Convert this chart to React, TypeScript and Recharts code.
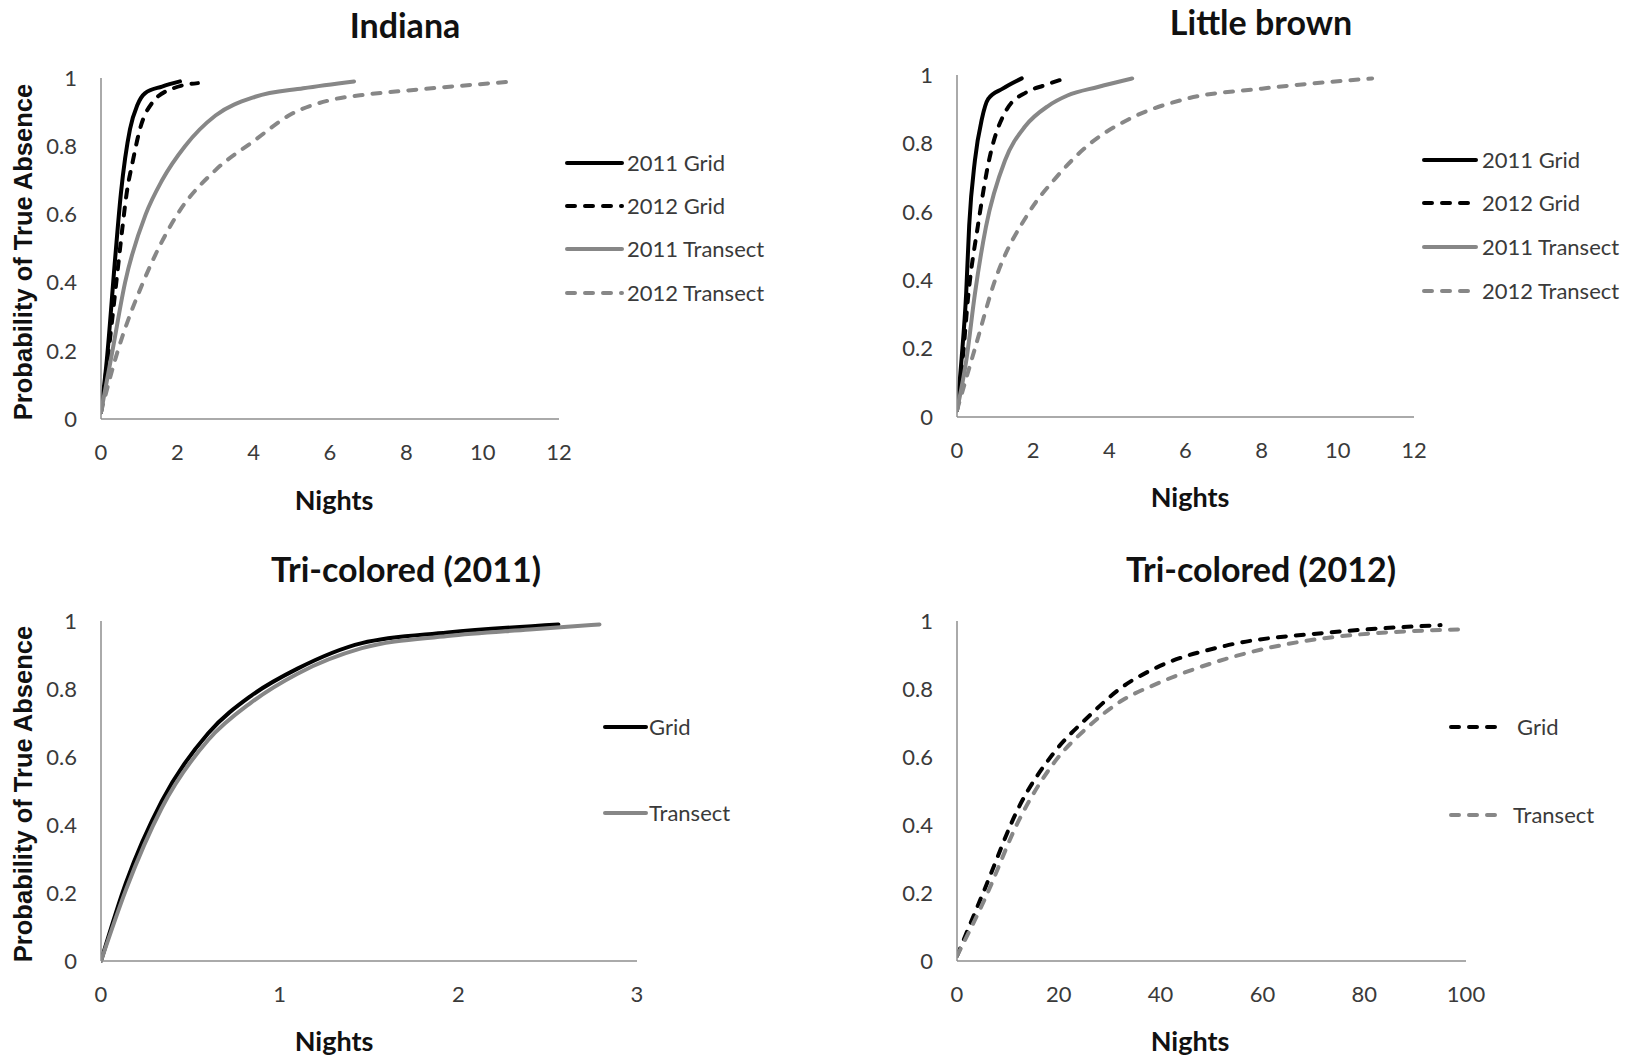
import { LineChart, Line, XAxis, YAxis } from 'recharts';

// ---------------------------------------------------------------------------
// Data: probability of true absence vs. survey nights
// ---------------------------------------------------------------------------

const probTicks = [0, 0.2, 0.4, 0.6, 0.8, 1];
const nightTicks12 = [0, 2, 4, 6, 8, 10, 12];
const nightTicks3 = [0, 1, 2, 3];
const nightTicks100 = [0, 20, 40, 60, 80, 100];

// Indiana
const indianaGrid2011 = [
  { n: 0, p: 0.02 }, { n: 0.15, p: 0.17 }, { n: 0.37, p: 0.47 }, { n: 0.52, p: 0.66 },
  { n: 0.76, p: 0.85 }, { n: 0.95, p: 0.92 }, { n: 1.15, p: 0.955 }, { n: 1.6, p: 0.975 },
  { n: 2.07, p: 0.99 },
];
const indianaGrid2012 = [
  { n: 0, p: 0.02 }, { n: 0.2, p: 0.2 }, { n: 0.42, p: 0.42 }, { n: 0.56, p: 0.56 },
  { n: 0.67, p: 0.66 }, { n: 0.84, p: 0.76 }, { n: 1.02, p: 0.85 }, { n: 1.36, p: 0.93 },
  { n: 1.9, p: 0.97 }, { n: 2.54, p: 0.985 },
];
const indianaTransect2011 = [
  { n: 0, p: 0.02 }, { n: 0.3, p: 0.2 }, { n: 0.63, p: 0.4 }, { n: 1.17, p: 0.6 },
  { n: 1.6, p: 0.7 }, { n: 2.2, p: 0.8 }, { n: 3.0, p: 0.89 }, { n: 4.04, p: 0.945 },
  { n: 5.3, p: 0.97 }, { n: 6.63, p: 0.99 },
];
const indianaTransect2012 = [
  { n: 0, p: 0.02 }, { n: 0.44, p: 0.2 }, { n: 1.1, p: 0.4 }, { n: 2.0, p: 0.6 },
  { n: 3.0, p: 0.73 }, { n: 4.0, p: 0.815 }, { n: 5.0, p: 0.895 }, { n: 6.0, p: 0.935 },
  { n: 7.0, p: 0.952 }, { n: 8.0, p: 0.963 }, { n: 10.8, p: 0.99 },
];

// Little brown
const littleGrid2011 = [
  { n: 0, p: 0.02 }, { n: 0.12, p: 0.17 }, { n: 0.24, p: 0.36 }, { n: 0.32, p: 0.56 },
  { n: 0.47, p: 0.75 }, { n: 0.65, p: 0.87 }, { n: 0.82, p: 0.93 }, { n: 1.2, p: 0.96 },
  { n: 1.7, p: 0.99 },
];
const littleGrid2012 = [
  { n: 0, p: 0.02 }, { n: 0.15, p: 0.17 }, { n: 0.3, p: 0.36 }, { n: 0.55, p: 0.56 },
  { n: 0.84, p: 0.75 }, { n: 1.31, p: 0.9 }, { n: 1.83, p: 0.95 }, { n: 2.3, p: 0.97 },
  { n: 2.84, p: 0.99 },
];
const littleTransect2011 = [
  { n: 0, p: 0.02 }, { n: 0.25, p: 0.17 }, { n: 0.47, p: 0.36 }, { n: 0.76, p: 0.556 },
  { n: 1.26, p: 0.75 }, { n: 1.79, p: 0.85 }, { n: 2.4, p: 0.91 }, { n: 2.9, p: 0.94 },
  { n: 3.7, p: 0.965 }, { n: 4.6, p: 0.99 },
];
const littleTransect2012 = [
  { n: 0, p: 0.02 }, { n: 0.47, p: 0.2 }, { n: 1.0, p: 0.4 }, { n: 1.9, p: 0.6 },
  { n: 2.6, p: 0.7 }, { n: 3.5, p: 0.8 }, { n: 4.5, p: 0.87 }, { n: 6.0, p: 0.93 },
  { n: 8.0, p: 0.96 }, { n: 10.9, p: 0.99 },
];

// Tri-colored (2011)
const tri2011Grid = [
  { n: 0, p: 0 }, { n: 0.14, p: 0.23 }, { n: 0.34, p: 0.47 }, { n: 0.6, p: 0.67 },
  { n: 0.84, p: 0.78 }, { n: 1.1, p: 0.86 }, { n: 1.46, p: 0.935 }, { n: 1.94, p: 0.966 },
  { n: 2.56, p: 0.99 },
];
const tri2011Transect = [
  { n: 0, p: 0 }, { n: 0.14, p: 0.21 }, { n: 0.34, p: 0.45 }, { n: 0.6, p: 0.65 },
  { n: 0.84, p: 0.76 }, { n: 1.1, p: 0.845 }, { n: 1.46, p: 0.92 }, { n: 1.94, p: 0.956 },
  { n: 2.4, p: 0.975 }, { n: 2.79, p: 0.99 },
];

// Tri-colored (2012)
const tri2012Grid = [
  { n: 0, p: 0.015 }, { n: 5.4, p: 0.21 }, { n: 12.2, p: 0.454 }, { n: 18.9, p: 0.61 },
  { n: 25.7, p: 0.717 }, { n: 32.4, p: 0.805 }, { n: 39.2, p: 0.863 }, { n: 52.7, p: 0.927 },
  { n: 73, p: 0.966 }, { n: 95, p: 0.988 },
];
const tri2012Transect = [
  { n: 0, p: 0.015 }, { n: 5.4, p: 0.18 }, { n: 12.2, p: 0.415 }, { n: 18.9, p: 0.58 },
  { n: 25.7, p: 0.688 }, { n: 32.4, p: 0.766 }, { n: 39.2, p: 0.815 }, { n: 52.7, p: 0.888 },
  { n: 73, p: 0.951 }, { n: 100, p: 0.976 },
];

// ---------------------------------------------------------------------------
// Styles
// ---------------------------------------------------------------------------

const FONT = 'Lato, "Liberation Sans", sans-serif';
const LABEL_FONT = '"Liberation Sans", Arial, sans-serif';
const BLACK = '#000000';
const GRAY = '#878787';
const AXIS = '#8e8e8e';
const TEXT = '#3a3a3a';
const DASH = '8 10';

interface Series {
  name: string;
  data: { n: number; p: number }[];
  color: string;
  dashed: boolean;
}

interface PanelConfig {
  title: string;
  titleX: number;
  titleY: number;
  left: number;
  right: number;
  top: number;
  bottom: number;
  xMax: number;
  xTicks: number[];
  series: Series[];
  nightsX: number;
  nightsY: number;
  yLabelY?: number;
  legend: { x1: number; x2: number; tx: number[]; rows: number[] };
}

const panels: PanelConfig[] = [
  {
    title: 'Indiana',
    titleX: 405,
    titleY: 26,
    left: 101,
    right: 559,
    top: 78,
    bottom: 419,
    xMax: 12,
    xTicks: nightTicks12,
    series: [
      { name: '2011 Grid', data: indianaGrid2011, color: BLACK, dashed: false },
      { name: '2012 Grid', data: indianaGrid2012, color: BLACK, dashed: true },
      { name: '2011 Transect', data: indianaTransect2011, color: GRAY, dashed: false },
      { name: '2012 Transect', data: indianaTransect2012, color: GRAY, dashed: true },
    ],
    nightsX: 334,
    nightsY: 500,
    yLabelY: 252,
    legend: { x1: 567, x2: 622, tx: [627, 627, 627, 627], rows: [163, 206, 249, 293] },
  },
  {
    title: 'Little brown',
    titleX: 1261,
    titleY: 23,
    left: 957,
    right: 1414,
    top: 75,
    bottom: 417,
    xMax: 12,
    xTicks: nightTicks12,
    series: [
      { name: '2011 Grid', data: littleGrid2011, color: BLACK, dashed: false },
      { name: '2012 Grid', data: littleGrid2012, color: BLACK, dashed: true },
      { name: '2011 Transect', data: littleTransect2011, color: GRAY, dashed: false },
      { name: '2012 Transect', data: littleTransect2012, color: GRAY, dashed: true },
    ],
    nightsX: 1190,
    nightsY: 497,
    legend: { x1: 1424, x2: 1476, tx: [1482, 1482, 1482, 1482], rows: [160, 203, 247, 291] },
  },
  {
    title: 'Tri-colored (2011)',
    titleX: 406,
    titleY: 570,
    left: 101,
    right: 637,
    top: 621,
    bottom: 961,
    xMax: 3,
    xTicks: nightTicks3,
    series: [
      { name: 'Grid', data: tri2011Grid, color: BLACK, dashed: false },
      { name: 'Transect', data: tri2011Transect, color: GRAY, dashed: false },
    ],
    nightsX: 334,
    nightsY: 1041,
    yLabelY: 794,
    legend: { x1: 605, x2: 646, tx: [649, 649], rows: [727, 813] },
  },
  {
    title: 'Tri-colored (2012)',
    titleX: 1261,
    titleY: 570,
    left: 957,
    right: 1466,
    top: 621,
    bottom: 961,
    xMax: 100,
    xTicks: nightTicks100,
    series: [
      { name: 'Grid', data: tri2012Grid, color: BLACK, dashed: true },
      { name: 'Transect', data: tri2012Transect, color: GRAY, dashed: true },
    ],
    nightsX: 1190,
    nightsY: 1041,
    legend: { x1: 1451, x2: 1502, tx: [1517, 1513], rows: [727, 815] },
  },
];

// ---------------------------------------------------------------------------
// Components
// ---------------------------------------------------------------------------

const Y_AXIS_W = 100;
const X_AXIS_H = 60;
const PAD_TOP = 20;
const PAD_RIGHT = 20;

function Panel({ cfg }: { cfg: PanelConfig }) {
  const width = cfg.right - cfg.left + Y_AXIS_W + PAD_RIGHT;
  const height = cfg.bottom - cfg.top + PAD_TOP + X_AXIS_H;
  const tick = { fontSize: 22, fill: TEXT, fontFamily: FONT };
  const axisLine = { stroke: AXIS, strokeWidth: 1.5 };

  return (
    <div style={{ position: 'absolute', left: cfg.left - Y_AXIS_W, top: cfg.top - PAD_TOP }}>
      <LineChart
        width={width}
        height={height}
        margin={{ top: PAD_TOP, right: PAD_RIGHT, bottom: 0, left: 0 }}
      >
        <XAxis
          type="number"
          dataKey="n"
          domain={[0, cfg.xMax]}
          ticks={cfg.xTicks}
          interval={0}
          allowDataOverflow
          height={X_AXIS_H}
          tickLine={false}
          tickSize={0}
          tickMargin={25}
          axisLine={axisLine}
          tick={tick}
        />
        <YAxis
          type="number"
          domain={[0, 1]}
          ticks={probTicks}
          interval={0}
          width={Y_AXIS_W}
          tickLine={false}
          tickSize={0}
          tickMargin={24}
          axisLine={axisLine}
          tick={tick}
        />
        {cfg.series.map((s) => (
          <Line
            key={s.name}
            data={s.data}
            dataKey="p"
            type="monotone"
            stroke={s.color}
            strokeWidth={4}
            strokeDasharray={s.dashed ? DASH : undefined}
            strokeLinecap="round"
            dot={false}
            activeDot={false}
            isAnimationActive={false}
          />
        ))}
      </LineChart>
    </div>
  );
}

function Annotations() {
  return (
    <svg
      width={1633}
      height={1059}
      style={{ position: 'absolute', left: 0, top: 0, pointerEvents: 'none' }}
    >
      {panels.map((cfg) => (
        <g key={cfg.title}>
          <text
            x={cfg.titleX}
            y={cfg.titleY}
            dy="0.36em"
            textAnchor="middle"
            fontFamily={FONT}
            fontWeight={700}
            fontSize={34}
            fill="#111"
          >
            {cfg.title}
          </text>
          <text
            x={cfg.nightsX}
            y={cfg.nightsY}
            dy="0.36em"
            textAnchor="middle"
            fontFamily={FONT}
            fontWeight={700}
            fontSize={27}
            fill="#111"
          >
            Nights
          </text>
          {cfg.yLabelY !== undefined && (
            <text
              x={23}
              y={cfg.yLabelY}
              dy="0.36em"
              textAnchor="middle"
              transform={`rotate(-90 23 ${cfg.yLabelY})`}
              fontFamily={LABEL_FONT}
              fontWeight={700}
              fontSize={25.5}
              fill="#111"
            >
              Probability of True Absence
            </text>
          )}
          {cfg.series.map((s, i) => (
            <g key={s.name}>
              <line
                x1={cfg.legend.x1}
                x2={cfg.legend.x2}
                y1={cfg.legend.rows[i]}
                y2={cfg.legend.rows[i]}
                stroke={s.color}
                strokeWidth={4}
                strokeLinecap="round"
                strokeDasharray={s.dashed ? DASH : undefined}
              />
              <text
                x={cfg.legend.tx[i]}
                y={cfg.legend.rows[i]}
                dy="0.36em"
                fontFamily={FONT}
                fontSize={22}
                fill={TEXT}
              >
                {s.name}
              </text>
            </g>
          ))}
        </g>
      ))}
    </svg>
  );
}

export default function App() {
  return (
    <div
      style={{
        position: 'absolute',
        left: 0,
        top: 0,
        width: 1633,
        height: 1059,
        background: '#fff',
      }}
    >
      {panels.map((cfg) => (
        <Panel key={cfg.title} cfg={cfg} />
      ))}
      <Annotations />
    </div>
  );
}
